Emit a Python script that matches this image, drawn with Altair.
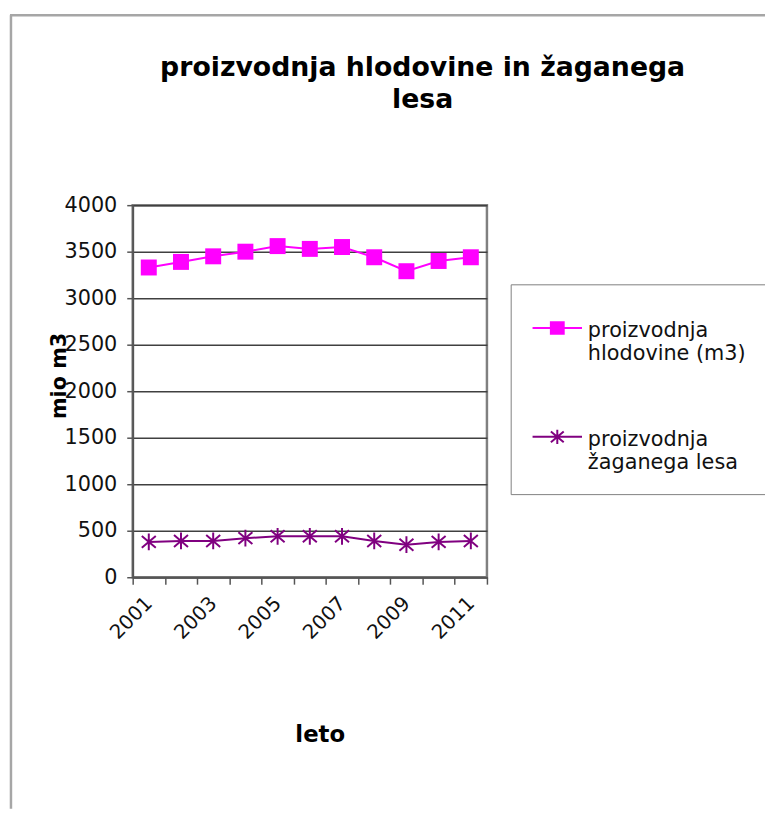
import altair as alt
import pandas as pd

# ---- data ----
years = ["2001", "2002", "2003", "2004", "2005", "2006",
         "2007", "2008", "2009", "2010", "2011"]
hlodovina = [3330, 3390, 3450, 3500, 3560, 3530, 3550, 3440, 3290, 3400, 3440]
zagan_les = [380, 390, 390, 420, 440, 440, 440, 390, 350, 380, 390]
series_names = ["proizvodnja hlodovine (m3)", "proizvodnja žaganega lesa"]
series_colors = ["#FF00FF", "#800080"]
y_ticks = [0, 500, 1000, 1500, 2000, 2500, 3000, 3500, 4000]
title_lines = ["proizvodnja hlodovine in žaganega", "lesa"]

df = pd.DataFrame({
    "leto": years * 2,
    "serija": [series_names[0]] * len(years) + [series_names[1]] * len(years),
    "vrednost": hlodovina + zagan_les,
})

FONT = "DejaVu Sans"
ASTER = "M-1,-0.85L1,0.85M-1,0.85L1,-0.85M0,-1.2L0,1.2"

# legend symbols (line + marker), unit = sqrt(830)/2 px
_cx, _cy = 0.736, 0.53
LEG_SQUARE = f"M-1,{_cy}H2.47" + "".join(
    f"M{_cx - 0.52:.3f},{_cy + d:.3f}H{_cx + 0.52:.3f}"
    for d in [-0.40, -0.30, -0.20, -0.10, 0.0, 0.10, 0.20, 0.30, 0.40])
LEG_ASTER = (f"M-1,{_cy}H2.47"
             f"M{_cx - 0.45:.3f},{_cy - 0.38:.3f}L{_cx + 0.45:.3f},{_cy + 0.38:.3f}"
             f"M{_cx - 0.45:.3f},{_cy + 0.38:.3f}L{_cx + 0.45:.3f},{_cy - 0.38:.3f}"
             f"M{_cx:.3f},{_cy - 0.5:.3f}L{_cx:.3f},{_cy + 0.5:.3f}")

x_enc = alt.X(
    "leto:O",
    scale=alt.Scale(type="band", paddingInner=0, paddingOuter=0),
    axis=alt.Axis(
        title="leto", titleFont=FONT, titleFontSize=23, titleFontWeight="bold",
        titleColor="#000", titleX=189, titleY=166, titleAlign="center",
        titleBaseline="alphabetic", titleAngle=0,
        labelAngle=-45, labelAlign="right", labelBaseline="middle",
        labelFont=FONT, labelFontSize=20, labelColor="#111",
        labelExpr="toNumber(datum.value) % 2 == 1 ? datum.label : ''",
        labelPadding=16, labelOverlap=False,
        tickBand="extent", tickSize=7, tickColor="#555", tickWidth=1.5,
        domainColor="#555", domainWidth=2, grid=False,
    ),
)
y_enc = alt.Y(
    "vrednost:Q",
    scale=alt.Scale(domain=[0, 4000], nice=False),
    axis=alt.Axis(
        title="mio m3", titleFont=FONT, titleFontSize=21, titleFontWeight="bold",
        titleColor="#000", titleX=-68, titleY=172, titleAlign="center",
        titleBaseline="alphabetic", titleAngle=-90,
        values=y_ticks, format="d", labelFont=FONT, labelFontSize=21, labelColor="#111",
        labelPadding=10, tickSize=6, tickColor="#555", tickWidth=1.5,
        domainColor="#555", domainWidth=2,
        grid=True, gridColor="#404040", gridWidth=1.5,
    ),
)

base = alt.Chart(df)

line_a = base.transform_filter(alt.datum.serija == series_names[0]).mark_line(
    color=series_colors[0], strokeWidth=2,
    point=alt.OverlayMarkDef(shape="square", filled=True, size=260,
                             color=series_colors[0], opacity=1),
).encode(x=x_enc, y=y_enc)

line_b = base.transform_filter(alt.datum.serija == series_names[1]).mark_line(
    color=series_colors[1], strokeWidth=2,
    point=alt.OverlayMarkDef(shape=ASTER, filled=False, size=200, strokeWidth=2,
                             color=series_colors[1], opacity=1),
).encode(x=x_enc, y=y_enc)

legend = alt.Legend(
    title=None, orient="none", legendX=382, legendY=80,
    strokeColor="#808080", fillColor="#FFFFFF", padding=21,
    rowPadding=50, labelFont=FONT, labelFontSize=21, labelColor="#111",
    labelLimit=400, labelOffset=26, labelBaseline="top",
    labelExpr="[slice(datum.label, 0, 11), slice(datum.label, 12)]",
    symbolSize=830, symbolStrokeWidth=2, symbolOpacity=1,
)
legend_layer = base.transform_filter("false").mark_point(opacity=1, strokeWidth=2).encode(
    fill=alt.Fill("serija:N", scale=alt.Scale(domain=series_names, range=series_colors), legend=legend),
    stroke=alt.Stroke("serija:N", scale=alt.Scale(domain=series_names, range=series_colors), legend=legend),
    shape=alt.Shape("serija:N", scale=alt.Scale(domain=series_names, range=[LEG_SQUARE, LEG_ASTER]), legend=legend),
)

title_text = alt.Chart(pd.DataFrame({"t": [0]})).mark_text(
    text=title_lines, font=FONT, fontSize=27, fontWeight="bold", color="#000",
    align="center", baseline="alphabetic", lineHeight=33,
).encode(x=alt.value(293), y=alt.value(-131))

frame_src = alt.Chart(pd.DataFrame({"f": [0]}))
frame_left = frame_src.mark_rule(color="#A6A6A6", strokeWidth=2.5).encode(
    x=alt.value(-123), y=alt.value(-192), y2=alt.value(610))
frame_top = frame_src.mark_rule(color="#A6A6A6", strokeWidth=2.5).encode(
    x=alt.value(-124), x2=alt.value(640), y=alt.value(-192))

chart = alt.layer(
    frame_left, frame_top, title_text, line_a, line_b, legend_layer
).properties(
    width=358, height=376,
    autosize=alt.AutoSizeParams(type="none"),
    padding={"left": 126, "top": 195, "right": 281, "bottom": 234},
    background="#FFFFFF",
).configure_view(
    fill="#C0C0C0", stroke="#808080", strokeWidth=2.5,
)

chart.save("out.html", embed_options={"renderer": "svg", "actions": False})
